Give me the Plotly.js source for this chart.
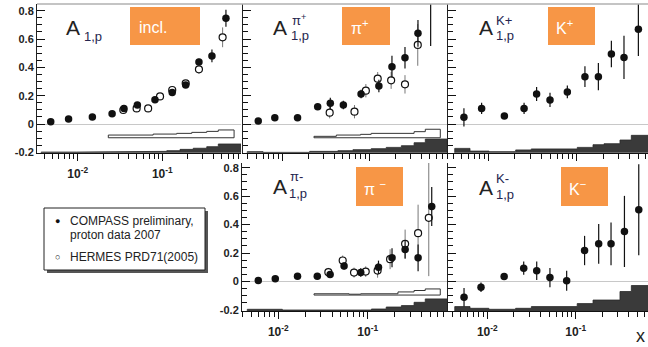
<!DOCTYPE html>
<html><head><meta charset="utf-8">
<script src="https://cdn.plot.ly/plotly-3.0.1.min.js"></script>
<style>html,body{margin:0;padding:0;background:#fff;} #chart{width:648px;height:347px;}</style>
</head><body><div id="chart"></div>
<script>
// ---------- DATA ----------
// inclusive
const incl_compass_x = [0.0048, 0.0078, 0.0149, 0.0255, 0.0352, 0.0507, 0.0819, 0.131, 0.189, 0.271, 0.386, 0.565];
const incl_compass_y = [0.016, 0.035, 0.049, 0.073, 0.110, 0.134, 0.172, 0.223, 0.275, 0.438, 0.480, 0.746];
const incl_compass_e = [0.010, 0.008, 0.008, 0.010, 0.012, 0.015, 0.015, 0.018, 0.020, 0.022, 0.045, 0.060];
const incl_hermes_x = [0.0346, 0.0497, 0.068, 0.094, 0.131, 0.189, 0.271, 0.516];
const incl_hermes_y = [0.099, 0.110, 0.110, 0.195, 0.240, 0.287, 0.386, 0.612];
const incl_hermes_e = [0.010, 0.012, 0.012, 0.015, 0.018, 0.020, 0.030, 0.070];
const incl_compass_band_edges = [0.0037, 0.0097, 0.030, 0.113, 0.162, 0.232, 0.335, 0.459, 0.85];
const incl_compass_band_top = [-0.198, -0.197, -0.193, -0.188, -0.179, -0.171, -0.160, -0.141];
const incl_hermes_band_edges = [0.023, 0.078, 0.148, 0.223, 0.335, 0.459, 0.705];
const incl_hermes_band_top = [-0.078, -0.071, -0.066, -0.059, -0.052, -0.042];
const incl_hermes_band_base = -0.097;

// pi+
const pip_compass_x = [0.00528, 0.0082, 0.0150, 0.0256, 0.0358, 0.0506, 0.081, 0.130, 0.184, 0.260, 0.367, 0.514];
const pip_compass_y = [0.021, 0.045, 0.045, 0.122, 0.146, 0.134, 0.212, 0.268, 0.405, 0.468, 0.640, 1.100];
const pip_compass_e = [0.020, 0.012, 0.012, 0.015, 0.040, 0.030, 0.030, 0.044, 0.077, 0.076, 0.094, 0.550];
const pip_hermes_x = [0.0352, 0.068, 0.092, 0.126, 0.180, 0.260, 0.365];
const pip_hermes_y = [0.080, 0.087, 0.235, 0.320, 0.308, 0.280, 0.558];
const pip_hermes_e = [0.040, 0.047, 0.047, 0.047, 0.060, 0.065, 0.147];
const pip_compass_band_edges = [0.00394, 0.0060, 0.0207, 0.0438, 0.0653, 0.106, 0.158, 0.236, 0.331, 0.446, 0.80];
const pip_compass_band_top = [-0.195, -0.200, -0.193, -0.188, -0.181, -0.174, -0.165, -0.153, -0.132, -0.106];
const pip_hermes_band_edges = [0.0232, 0.042, 0.080, 0.106, 0.331, 0.446, 0.664];
const pip_hermes_band_top = [-0.087, -0.078, -0.073, -0.066, -0.054, -0.037];
const pip_hermes_band_base = -0.097;

// K+
const kp_compass_x = [0.0053, 0.0084, 0.0152, 0.0254, 0.0352, 0.0499, 0.0784, 0.124, 0.176, 0.247, 0.343, 0.499];
const kp_compass_y = [0.047, 0.110, 0.056, 0.110, 0.212, 0.170, 0.226, 0.334, 0.334, 0.494, 0.470, 0.668];
const kp_compass_e = [0.065, 0.040, 0.020, 0.040, 0.050, 0.050, 0.045, 0.073, 0.096, 0.094, 0.153, 0.188];
const kp_compass_band_edges = [0.00417, 0.00621, 0.0102, 0.0204, 0.0306, 0.1016, 0.153, 0.204, 0.309, 0.415, 0.75];
const kp_compass_band_top = [-0.172, -0.191, -0.195, -0.183, -0.176, -0.165, -0.146, -0.139, -0.113, -0.080];

// pi-
const pim_compass_x = [0.00597, 0.00925, 0.0164, 0.0273, 0.038, 0.0544, 0.0836, 0.132, 0.187, 0.262, 0.366, 0.520];
const pim_compass_y = [0.007, 0.019, 0.038, 0.038, 0.049, 0.110, 0.063, 0.100, 0.167, 0.225, 0.167, 0.528];
const pim_compass_e = [0.020, 0.012, 0.012, 0.015, 0.020, 0.025, 0.030, 0.047, 0.067, 0.065, 0.094, 0.137];
const pim_hermes_x = [0.0363, 0.0525, 0.0703, 0.095, 0.129, 0.178, 0.262, 0.366, 0.482];
const pim_hermes_y = [0.066, 0.148, 0.063, 0.070, 0.077, 0.157, 0.265, 0.340, 0.448];
const pim_hermes_e = [0.030, 0.035, 0.035, 0.037, 0.050, 0.070, 0.100, 0.200, 0.410];
const pim_compass_band_edges = [0.0045, 0.0111, 0.110, 0.161, 0.238, 0.330, 0.440, 0.78];
const pim_compass_band_top = [-0.195, -0.200, -0.193, -0.179, -0.169, -0.146, -0.122];
const pim_hermes_band_edges = [0.0251, 0.0618, 0.0836, 0.218, 0.330, 0.440, 0.648];
const pim_hermes_band_top = [-0.086, -0.089, -0.086, -0.073, -0.063, -0.052];
const pim_hermes_band_base = -0.095;

// K-
const km_compass_x = [0.00545, 0.00848, 0.0155, 0.0258, 0.0362, 0.0511, 0.079, 0.126, 0.182, 0.251, 0.356, 0.517];
const km_compass_y = [-0.110, -0.040, 0.035, 0.094, 0.075, 0.028, 0.005, 0.218, 0.265, 0.265, 0.352, 0.505];
const km_compass_e = [0.065, 0.033, 0.025, 0.047, 0.065, 0.068, 0.070, 0.103, 0.140, 0.150, 0.250, 0.320];
const km_compass_band_edges = [0.00428, 0.00637, 0.0104, 0.0209, 0.0315, 0.104, 0.157, 0.317, 0.426, 0.75];
const km_compass_band_top = [-0.176, -0.188, -0.195, -0.188, -0.176, -0.155, -0.130, -0.070, -0.028];

// tick labels
const y_tick_vals = [-0.2, 0, 0.2, 0.4, 0.6, 0.8];
const y_tick_text = ['-0.2', '0', '0.2', '0.4', '0.6', '0.8'];
const x_tick_vals = [0.01, 0.1];
const x_tick_text = ['10<sup>-2</sup>', '10<sup>-1</sup>'];
const legend_compass = ['COMPASS preliminary,', 'proton data 2007'];
const legend_hermes = 'HERMES PRD71(2005)';

// ---------- DRAWING ----------
const W = 648, H = 347;
const FONT = 'Liberation Sans, Arial, sans-serif';
const px = v => v / W;
const py = v => 1 - v / H;

function stepPolygon(edges, tops, base) {
  const xs = [edges[0]], ys = [base];
  for (let i = 0; i < tops.length; i++) {
    xs.push(edges[i]); ys.push(tops[i]);
    xs.push(edges[i + 1]); ys.push(tops[i]);
  }
  xs.push(edges[edges.length - 1]); ys.push(base);
  xs.push(edges[0]); ys.push(base);
  return {xs, ys};
}

const traces = [];
function addBand(edges, tops, base, ax, compass) {
  const p = stepPolygon(edges, tops, base);
  traces.push({type: 'scatter', mode: 'lines', x: p.xs, y: p.ys, fill: 'toself',
    fillcolor: compass ? '#3a3a3a' : '#ffffff',
    line: {color: compass ? '#2a2a2a' : '#333333', width: compass ? 0.8 : 1},
    xaxis: 'x' + ax, yaxis: 'y' + ax, hoverinfo: 'skip', showlegend: false});
}
function addPoints(x, y, e, ax, compass) {
  traces.push({type: 'scatter', mode: 'markers', x: x, y: y,
    error_y: {type: 'data', array: e, visible: true, color: compass ? '#111' : '#777', thickness: compass ? 1.2 : 1, width: 0},
    marker: compass ? {size: 7.5, color: '#111'} : {size: 7, color: '#fff', line: {color: '#111', width: 1.2}},
    xaxis: 'x' + ax, yaxis: 'y' + ax, showlegend: false, hoverinfo: 'skip'});
}

// panel 1 (incl)
addBand(incl_compass_band_edges, incl_compass_band_top, -0.3, '', true);
addBand(incl_hermes_band_edges, incl_hermes_band_top, incl_hermes_band_base, '', false);
addPoints(incl_hermes_x, incl_hermes_y, incl_hermes_e, '', false);
addPoints(incl_compass_x, incl_compass_y, incl_compass_e, '', true);
// panel 2 (pi+)
addBand(pip_compass_band_edges, pip_compass_band_top, -0.3, '2', true);
addBand(pip_hermes_band_edges, pip_hermes_band_top, pip_hermes_band_base, '2', false);
addPoints(pip_hermes_x, pip_hermes_y, pip_hermes_e, '2', false);
addPoints(pip_compass_x, pip_compass_y, pip_compass_e, '2', true);
// panel 3 (K+)
addBand(kp_compass_band_edges, kp_compass_band_top, -0.3, '3', true);
addPoints(kp_compass_x, kp_compass_y, kp_compass_e, '3', true);
// panel 4 (pi-)
addBand(pim_compass_band_edges, pim_compass_band_top, -0.3, '4', true);
addBand(pim_hermes_band_edges, pim_hermes_band_top, pim_hermes_band_base, '4', false);
addPoints(pim_hermes_x, pim_hermes_y, pim_hermes_e, '4', false);
addPoints(pim_compass_x, pim_compass_y, pim_compass_e, '4', true);
// panel 5 (K-)
addBand(km_compass_band_edges, km_compass_band_top, -0.3, '5', true);
addPoints(km_compass_x, km_compass_y, km_compass_e, '5', true);

// minor ticks
const xMinor = [];
[0.001, 0.01, 0.1].forEach(d => { for (let m = 2; m <= 9; m++) xMinor.push(+(m * d).toPrecision(3)); });
const yMinor = [];
for (let k = -4; k <= 17; k++) { if (k % 4 !== 0) yMinor.push(+(k * 0.05).toFixed(2)); }

const tickFont = {family: FONT, size: 11, color: '#222', weight: 'bold'};
const xTickFont = {family: FONT, size: 12, color: '#222', weight: 'bold'};
function xax(domain, range, anchor, labels) {
  return {type: 'log', domain: domain, range: range, anchor: anchor,
    showline: true, linecolor: '#111', linewidth: 1,
    ticks: 'outside', ticklen: 7, tickwidth: 1, tickcolor: '#111',
    tickmode: 'array', tickvals: x_tick_vals, ticktext: x_tick_text,
    showticklabels: labels, tickfont: xTickFont, ticklabelstandoff: 3,
    minor: {tickmode: 'array', tickvals: xMinor, ticks: 'outside', ticklen: 5, tickwidth: 1, tickcolor: '#111'},
    showgrid: false, zeroline: false, fixedrange: true};
}
function yax(domain, range, anchor, labels) {
  return {domain: domain, range: range, anchor: anchor,
    showline: true, linecolor: '#222', linewidth: 1,
    ticks: 'inside', ticklen: 8, tickwidth: 1, tickcolor: '#111',
    tickmode: 'array', tickvals: y_tick_vals, ticktext: y_tick_text,
    showticklabels: labels, tickfont: tickFont,
    minor: {tickmode: 'array', tickvals: yMinor, ticks: 'inside', ticklen: 5, tickwidth: 1, tickcolor: '#111'},
    showgrid: false, zeroline: true, zerolinecolor: '#c8c8c8', zerolinewidth: 1, fixedrange: true};
}

const topDom = [py(152.7), py(4)];
const botDom = [py(311), py(163)];
const topY = [-0.2025, 0.847];
const botY = [-0.207, 0.833];

const orange = '#F79646';
const shapes = [
  {type: 'line', xref: 'paper', yref: 'paper', x0: px(37), x1: 1, y0: py(4), y1: py(4), line: {color: '#b0b0b0', width: 1.5}},
  {type: 'rect', xref: 'paper', yref: 'paper', x0: px(130), x1: px(200), y0: py(45), y1: py(7), fillcolor: orange, line: {width: 0}},
  {type: 'rect', xref: 'paper', yref: 'paper', x0: px(342), x1: px(390), y0: py(45), y1: py(7), fillcolor: orange, line: {width: 0}},
  {type: 'rect', xref: 'paper', yref: 'paper', x0: px(548), x1: px(595), y0: py(45), y1: py(7), fillcolor: orange, line: {width: 0}},
  {type: 'rect', xref: 'paper', yref: 'paper', x0: px(356), x1: px(403), y0: py(206), y1: py(167), fillcolor: orange, line: {width: 0}},
  {type: 'rect', xref: 'paper', yref: 'paper', x0: px(561), x1: px(608), y0: py(206), y1: py(167), fillcolor: orange, line: {width: 0}},
  // legend box with shadow
  {type: 'rect', xref: 'paper', yref: 'paper', x0: px(47), x1: px(208), y0: py(273), y1: py(211), fillcolor: '#555', line: {width: 0}},
  {type: 'rect', xref: 'paper', yref: 'paper', x0: px(44), x1: px(205), y0: py(270), y1: py(208), fillcolor: '#fff', line: {color: '#222', width: 1}}
];

function ann(x, y, text, size, color, xanchor, extra) {
  return Object.assign({xref: 'paper', yref: 'paper', x: px(x), y: py(y), text: text, showarrow: false,
    xanchor: xanchor || 'center', yanchor: 'middle', font: {family: FONT, size: size, color: color}}, extra || {});
}
const subCol = '#25254f';
const annotations = [
  // panel titles
  ann(73, 27, 'A', 21, '#222'),
  ann(82, 36, '1,p', 13, subCol, 'left'),
  ann(280, 28, 'A', 21, '#222'),
  ann(290, 20, 'π<sup>+</sup>', 13, subCol, 'left'),
  ann(289, 35, '1,p', 13, subCol, 'left'),
  ann(486, 28, 'A', 21, '#222'),
  ann(494, 20, 'K+', 13, subCol, 'left'),
  ann(494, 35, '1,p', 13, subCol, 'left'),
  ann(280, 186, 'A', 21, '#222'),
  ann(288, 176, 'π-', 13, subCol, 'left'),
  ann(287, 193, '1,p', 13, subCol, 'left'),
  ann(486, 187, 'A', 21, '#222'),
  ann(494, 178, 'K-', 13, subCol, 'left'),
  ann(494, 194, '1,p', 13, subCol, 'left'),
  // orange box labels
  ann(137, 27, 'incl.', 16, '#fff', 'left'),
  ann(349, 27, 'π<sup>+</sup>', 16, '#fff', 'left'),
  ann(554, 27, 'K<sup>+</sup>', 16, '#fff', 'left'),
  ann(362, 188, 'π <sup>−</sup>', 16, '#fff', 'left'),
  ann(567, 188, 'K<sup>−</sup>', 16, '#fff', 'left'),
  // legend
  ann(57, 221, '●', 9, '#111'),
  ann(68, 221, legend_compass[0], 12, '#222', 'left'),
  ann(68, 235, legend_compass[1], 12, '#222', 'left'),
  ann(57, 257, '○', 9, '#111'),
  ann(68, 257, legend_hermes, 12, '#222', 'left'),
  // x axis label
  ann(647, 336, 'x', 18, '#222', 'right')
];

const layout = {
  width: W, height: H, margin: {l: 0, r: 0, t: 0, b: 0},
  paper_bgcolor: '#fff', plot_bgcolor: 'rgba(0,0,0,0)', showlegend: false,
  xaxis: xax([px(37), px(241)], [-2.481, -0.070], 'y', true),
  yaxis: yax(topDom, topY, 'x', true),
  xaxis2: xax([px(243), px(448)], [-2.453, -0.089], 'y2', false),
  yaxis2: yax(topDom, topY, 'x2', false),
  xaxis3: xax([px(448), 1], [-2.456, -0.193], 'y3', false),
  yaxis3: yax(topDom, topY, 'x3', false),
  xaxis4: xax([px(242), px(448)], [-2.406, -0.102], 'y4', true),
  yaxis4: yax(botDom, botY, 'x4', true),
  xaxis5: xax([px(448), 1], [-2.445, -0.182], 'y5', true),
  yaxis5: yax(botDom, botY, 'x5', false),
  shapes: shapes, annotations: annotations
};

Plotly.newPlot('chart', traces, layout, {staticPlot: true});
</script></body></html>
